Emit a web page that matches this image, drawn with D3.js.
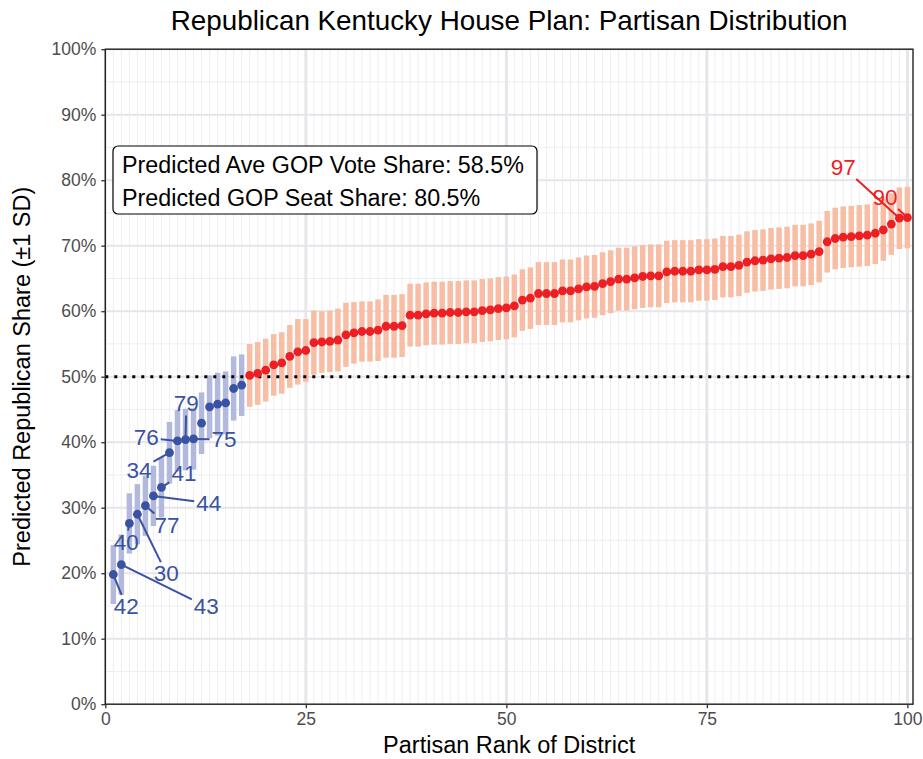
<!DOCTYPE html>
<html>
<head>
<meta charset="utf-8">
<script src="https://cdn.jsdelivr.net/npm/d3@7"></script>
<style>
  body { margin: 0; background: #fff; }
  svg { display: block; font-family: "Liberation Sans", Arial, sans-serif; }
</style>
</head>
<body>
<div id="chart"></div>
<script>
// district rank 1..100, predicted GOP share (%)
const share = [
  19.8, 21.3, 27.6, 29.0, 30.3, 31.8, 33.1, 38.4, 40.2, 40.4,
  40.5, 42.9, 45.4, 45.8, 46.0, 48.2, 48.7, 50.2, 50.5, 51.0,
  51.8, 52.1, 53.1, 53.8, 54.0, 55.2, 55.3, 55.4, 55.6, 56.4,
  56.7, 56.9, 56.9, 57.1, 57.7, 57.7, 57.8, 59.4, 59.4, 59.6,
  59.7, 59.7, 59.8, 59.8, 59.9, 59.9, 60.1, 60.2, 60.4, 60.5,
  60.8, 61.7, 62.0, 62.7, 62.7, 62.7, 63.1, 63.1, 63.4, 63.7,
  63.8, 64.2, 64.5, 64.9, 64.9, 65.1, 65.3, 65.4, 65.4, 66.0,
  66.1, 66.1, 66.1, 66.3, 66.3, 66.4, 66.8, 66.8, 67.0, 67.5,
  67.7, 67.8, 68.0, 68.1, 68.2, 68.5, 68.5, 68.7, 69.1, 70.6,
  71.1, 71.3, 71.4, 71.5, 71.6, 71.9, 72.4, 73.3, 74.2, 74.3
];
// one standard deviation (%)
const sd = [
  4.5, 4.6, 4.6, 4.6, 4.6, 4.6, 4.6, 4.7, 4.7, 4.7,
  4.7, 4.7, 4.8, 4.8, 4.8, 4.9, 4.7, 4.8, 4.8, 4.8,
  4.7, 4.7, 4.8, 5.0, 4.8, 4.9, 4.7, 4.7, 4.8, 4.9,
  4.7, 4.6, 4.6, 4.7, 4.8, 4.8, 4.8, 4.8, 4.8, 4.8,
  4.8, 4.8, 4.8, 4.8, 4.8, 4.8, 4.8, 4.8, 4.8, 4.8,
  4.8, 4.7, 4.7, 4.8, 4.8, 4.8, 4.8, 4.8, 4.8, 4.8,
  4.8, 4.8, 4.8, 4.8, 4.8, 4.8, 4.8, 4.8, 4.8, 4.75,
  4.75, 4.75, 4.75, 4.7, 4.7, 4.7, 4.7, 4.7, 4.7, 4.7,
  4.7, 4.7, 4.7, 4.7, 4.7, 4.7, 4.7, 4.7, 4.7, 4.7,
  4.7, 4.7, 4.7, 4.7, 4.7, 4.7, 4.7, 4.7, 4.7, 4.7
];

// labelled districts: rank, district number, label position (rank, %)
const labelRank = [1, 2, 3, 4, 5, 6, 7, 8, 9, 10, 11, 99, 100];
const labelText = ['42', '43', '40', '30', '77', '44', '41', '34', '76', '79', '75', '97', '90'];
const labelX = [2.6, 12.6, 2.6, 7.6, 7.7, 12.9, 9.8, 4.2, 5.1, 10.1, 14.8, 92.0, 97.2];
const labelY = [15.0, 14.9, 24.8, 20.0, 27.4, 30.7, 35.3, 35.8, 40.7, 45.9, 40.4, 82.0, 77.4];

const summaryLines = [
  'Predicted Ave GOP Vote Share: 58.5%',
  'Predicted GOP Seat Share: 80.5%'
];
const xTicks = [0, 25, 50, 75, 100];
const yTicks = [0, 10, 20, 30, 40, 50, 60, 70, 80, 90, 100];

const width = 923, height = 759;
const RED = '#ec2024', BLUE = '#3a52a3';
const RED_BAR = '#f8bea5', BLUE_BAR = '#b2b9dd';

const data = share.map((v, i) => ({ rank: i + 1, v, sd: sd[i] }));

const svg = d3.select('#chart').append('svg')
    .attr('width', width)
    .attr('height', height);

const x = d3.scaleLinear().domain([0, 100.7]).range([105.3, 913]);
const y = d3.scaleLinear().domain([0, 100]).range([704.2, 49.2]);

const [px0, px1] = x.range();
const [py0, py1] = y.range();

// grid
const grid = svg.append('g');
grid.selectAll('.vminor')
    .data(d3.range(1, 101).filter(d => d % 25 !== 0))
    .join('line')
    .attr('x1', d => x(d)).attr('x2', d => x(d))
    .attr('y1', py1).attr('y2', py0)
    .attr('stroke', '#efeff2').attr('stroke-width', 1);
grid.selectAll('.hminor')
    .data(d3.range(5, 100, 10))
    .join('line')
    .attr('x1', px0).attr('x2', px1)
    .attr('y1', d => y(d)).attr('y2', d => y(d))
    .attr('stroke', '#eeeef1').attr('stroke-width', 1);
grid.selectAll('.hmajor')
    .data(yTicks)
    .join('line')
    .attr('x1', px0).attr('x2', px1)
    .attr('y1', d => y(d)).attr('y2', d => y(d))
    .attr('stroke', '#e5e5ea').attr('stroke-width', 2);
grid.selectAll('.vmajor')
    .data(xTicks)
    .join('line')
    .attr('x1', d => x(d)).attr('x2', d => x(d))
    .attr('y1', py1).attr('y2', py0)
    .attr('stroke', '#e5e5ea').attr('stroke-width', 2.8);

// error bars
svg.append('g').selectAll('line')
    .data(data)
    .join('line')
    .attr('x1', d => x(d.rank)).attr('x2', d => x(d.rank))
    .attr('y1', d => y(d.v - d.sd)).attr('y2', d => y(d.v + d.sd))
    .attr('stroke', d => d.v < 50 ? BLUE_BAR : RED_BAR)
    .attr('stroke-width', 5.5);

// 50% line
svg.append('line')
    .attr('x1', px0).attr('x2', px1)
    .attr('y1', y(50)).attr('y2', y(50))
    .attr('stroke', '#000')
    .attr('stroke-width', 3)
    .attr('stroke-dasharray', '3,6');

// label segments + text
const labels = labelRank.map((r, i) => ({
    d: data[r - 1], text: labelText[i], lx: labelX[i], ly: labelY[i]
}));
const segG = svg.append('g');
const textG = svg.append('g');
labels.forEach(l => {
    const col = l.d.v < 50 ? BLUE : RED;
    const t = textG.append('text')
        .attr('x', x(l.lx)).attr('y', y(l.ly))
        .attr('dy', '0.35em')
        .attr('text-anchor', 'middle')
        .attr('font-size', 22.5)
        .attr('fill', col)
        .text(l.text);
    const bb = t.node().getBBox();
    const pad = 2;
    const bx0 = bb.x - pad, bx1 = bb.x + bb.width + pad;
    const by0 = bb.y + 3 - pad, by1 = bb.y + bb.height - 3 + pad;
    const cx = x(l.lx), cy = y(l.ly);
    const sx = x(l.d.rank), sy = y(l.d.v);
    // clip segment from point to label centre at label box edge
    const dx = cx - sx, dy = cy - sy;
    let tMin = 1;
    [[bx0, 'x'], [bx1, 'x'], [by0, 'y'], [by1, 'y']].forEach(([edge, ax]) => {
        const tt = ax === 'x' ? (dx ? (edge - sx) / dx : Infinity) : (dy ? (edge - sy) / dy : Infinity);
        if (tt > 0 && tt < tMin) {
            const ex = sx + tt * dx, ey = sy + tt * dy;
            if (ex >= bx0 - 0.01 && ex <= bx1 + 0.01 && ey >= by0 - 0.01 && ey <= by1 + 0.01) tMin = tt;
        }
    });
    if (tMin < 1) {
        segG.append('line')
            .attr('x1', sx).attr('y1', sy)
            .attr('x2', sx + tMin * dx).attr('y2', sy + tMin * dy)
            .attr('stroke', col).attr('stroke-width', 2);
    }
});

// points
svg.append('g').selectAll('circle')
    .data(data)
    .join('circle')
    .attr('cx', d => x(d.rank))
    .attr('cy', d => y(d.v))
    .attr('r', 4.4)
    .attr('fill', d => d.v < 50 ? BLUE : RED);

// panel border
svg.append('rect')
    .attr('x', px0).attr('y', py1)
    .attr('width', px1 - px0).attr('height', py0 - py1)
    .attr('fill', 'none')
    .attr('stroke', '#222')
    .attr('stroke-width', 1.4);

// axes
const xAxis = svg.append('g')
    .attr('transform', `translate(0,${py0})`)
    .call(d3.axisBottom(x).tickValues(xTicks).tickSize(4).tickPadding(4));
const yAxis = svg.append('g')
    .attr('transform', `translate(${px0},0)`)
    .call(d3.axisLeft(y).tickValues(yTicks).tickSize(4).tickPadding(5).tickFormat(d => d + '%'));
[xAxis, yAxis].forEach(a => {
    a.select('.domain').remove();
    a.selectAll('.tick line').attr('stroke', '#333').attr('stroke-width', 1.3);
    a.selectAll('.tick text')
        .attr('fill', '#4d4d4d')
        .attr('font-size', 17.5)
        .attr('font-family', '"Liberation Sans", Arial, sans-serif');
});

// summary box
const box = svg.append('g');
box.append('rect')
    .attr('x', 113).attr('y', 146)
    .attr('width', 424).attr('height', 68)
    .attr('rx', 5)
    .attr('fill', '#fff')
    .attr('stroke', '#000')
    .attr('stroke-width', 1.2);
box.selectAll('text')
    .data(summaryLines)
    .join('text')
    .attr('x', 122)
    .attr('y', (d, i) => 165 + i * 33)
    .attr('dy', '0.35em')
    .attr('font-size', 23.3)
    .attr('fill', '#000')
    .text(d => d);

// titles
svg.append('text')
    .attr('x', (px0 + px1) / 2)
    .attr('y', 30)
    .attr('text-anchor', 'middle')
    .attr('font-size', 27.8)
    .attr('fill', '#000')
    .text('Republican Kentucky House Plan: Partisan Distribution');

svg.append('text')
    .attr('x', (px0 + px1) / 2)
    .attr('y', 753)
    .attr('text-anchor', 'middle')
    .attr('font-size', 23.5)
    .attr('fill', '#000')
    .text('Partisan Rank of District');

svg.append('text')
    .attr('transform', `translate(30,${(py0 + py1) / 2}) rotate(-90)`)
    .attr('text-anchor', 'middle')
    .attr('font-size', 23.5)
    .attr('fill', '#000')
    .text('Predicted Republican Share (±1 SD)');
</script>
</body>
</html>
